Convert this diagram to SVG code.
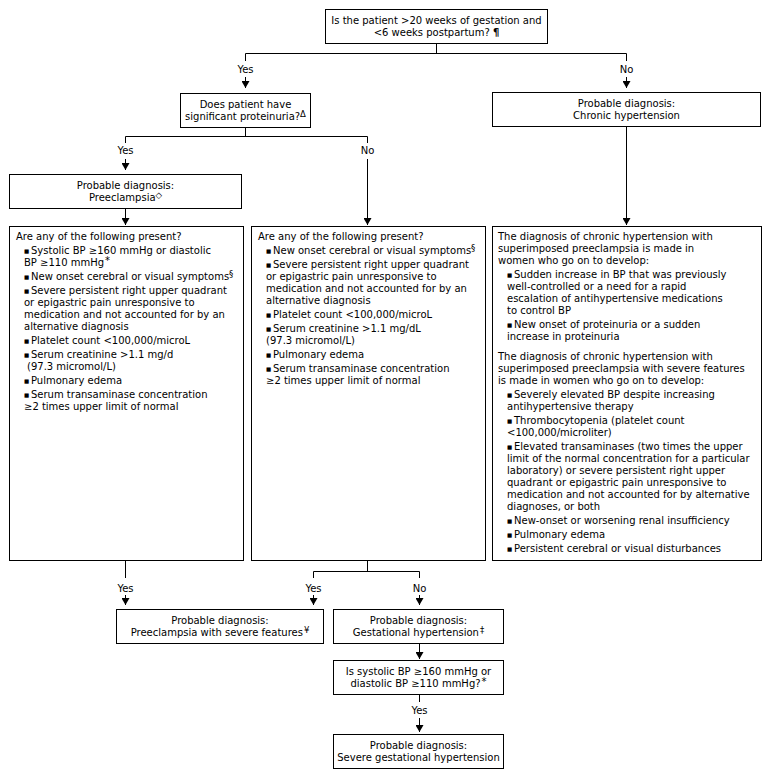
<svg xmlns="http://www.w3.org/2000/svg" width="771" height="778" viewBox="0 0 771 778">
<defs>
<marker id="ah" viewBox="0 0 7 8" refX="7" refY="4" markerWidth="7" markerHeight="8" markerUnits="userSpaceOnUse" orient="auto">
<path d="M0,0 L7,4 L0,8 z" fill="#000"/>
</marker>
<style>
text{font-family:"DejaVu Sans",Verdana,sans-serif;font-size:10px;fill:#000}
.c{text-anchor:middle}
.box{fill:#fff;stroke:#000;stroke-width:1}
.ln{fill:none;stroke:#000;stroke-width:1}
.ar{fill:none;stroke:#000;stroke-width:1;marker-end:url(#ah)}
.b{font-size:5.5px}
.sup{font-size:8.5px}
.ast{font-size:10px}
</style>
</defs>
<rect width="771" height="778" fill="#fff"/>

<g id="connectors">
<path class="ln" d="M436.5,43 V53.5 M245.5,53.5 H626.5 M245.5,53.5 V61 M626.5,53.5 V61"/>
<path class="ar" d="M245.5,77 V88"/>
<path class="ar" d="M626.5,77 V88"/>
<path class="ln" d="M245.5,127 V136.5 M125.5,136.5 H367.5 M125.5,136.5 V143 M367.5,136.5 V143"/>
<path class="ar" d="M125.5,159 V170"/>
<path class="ar" d="M367.5,159 V225"/>
<path class="ar" d="M125.5,208 V225"/>
<path class="ar" d="M626.5,126 V225"/>
<path class="ln" d="M125.5,561 V578 M367.5,561 V571.5 M313.5,571.5 H419.5 M313.5,571.5 V578 M419.5,571.5 V578"/>
<path class="ar" d="M125.5,595 V605"/>
<path class="ar" d="M313.5,595 V605"/>
<path class="ar" d="M419.5,595 V605"/>
<path class="ar" d="M419.5,643 V659"/>
<path class="ln" d="M419.5,694 V702"/>
<path class="ar" d="M419.5,718 V732"/>
<text class="c" x="245.5" y="72.5">Yes</text>
<text class="c" x="626.5" y="72.5">No</text>
<text class="c" x="125.5" y="154">Yes</text>
<text class="c" x="367.5" y="154">No</text>
<text class="c" x="125.5" y="591.5">Yes</text>
<text class="c" x="313.5" y="591.5">Yes</text>
<text class="c" x="419.5" y="591.5">No</text>
<text class="c" x="419.5" y="713.5">Yes</text>
</g>

<g id="q-gestation">
<rect class="box" x="325.5" y="9.5" width="222" height="34"/>
<text class="c" x="436.5" y="24">Is the patient &gt;20 weeks of gestation and</text>
<text class="c" x="436.5" y="36">&lt;6 weeks postpartum? <tspan font-weight="bold">¶</tspan></text>
</g>

<g id="q-proteinuria">
<rect class="box" x="180.5" y="93.5" width="130" height="34"/>
<text class="c" x="245.5" y="108">Does patient have</text>
<text class="c" x="245.5" y="120">significant proteinuria?<tspan class="sup" dy="-3">Δ</tspan></text>
</g>

<g id="dx-chronic">
<rect class="box" x="492.5" y="92.5" width="268" height="34"/>
<text class="c" x="626.5" y="107">Probable diagnosis:</text>
<text class="c" x="626.5" y="119">Chronic hypertension</text>
</g>

<g id="dx-preeclampsia">
<rect class="box" x="9.5" y="174.5" width="232" height="34"/>
<text class="c" x="125.5" y="189">Probable diagnosis:</text>
<text class="c" x="125.5" y="201">Preeclampsia<tspan class="sup" dy="-3">◇</tspan></text>
</g>

<g id="list-preeclampsia">
<rect class="box" x="9.5" y="226.5" width="234" height="334"/>
<text x="16" y="240">Are any of the following present?</text>
<text class="b" x="24" y="253">■</text><text x="31" y="254">Systolic BP ≥160 mmHg or diastolic</text>
<text x="24" y="266">BP ≥110 mmHg<tspan class="ast" dx="1" dy="-2">*</tspan></text>
<text class="b" x="24" y="279">■</text><text x="31" y="280">New onset cerebral or visual symptoms<tspan class="sup" dy="-3">§</tspan></text>
<text class="b" x="24" y="293">■</text><text x="31" y="294">Severe persistent right upper quadrant</text>
<text x="24" y="306">or epigastric pain unresponsive to</text>
<text x="24" y="318">medication and not accounted for by an</text>
<text x="24" y="330">alternative diagnosis</text>
<text class="b" x="24" y="343">■</text><text x="31" y="344">Platelet count &lt;100,000/microL</text>
<text class="b" x="24" y="357">■</text><text x="31" y="358">Serum creatinine &gt;1.1 mg/d</text>
<text x="27" y="370">(97.3 micromol/L)</text>
<text class="b" x="24" y="383">■</text><text x="31" y="384">Pulmonary edema</text>
<text class="b" x="24" y="397">■</text><text x="31" y="398">Serum transaminase concentration</text>
<text x="24" y="410">≥2 times upper limit of normal</text>
</g>

<g id="list-no-proteinuria">
<rect class="box" x="251.5" y="226.5" width="234" height="334"/>
<text x="258" y="240">Are any of the following present?</text>
<text class="b" x="266" y="253">■</text><text x="273" y="254">New onset cerebral or visual symptoms<tspan class="sup" dy="-3">§</tspan></text>
<text class="b" x="266" y="267">■</text><text x="273" y="268">Severe persistent right upper quadrant</text>
<text x="266" y="280">or epigastric pain unresponsive to</text>
<text x="266" y="292">medication and not accounted for by an</text>
<text x="266" y="304">alternative diagnosis</text>
<text class="b" x="266" y="317">■</text><text x="273" y="318">Platelet count &lt;100,000/microL</text>
<text class="b" x="266" y="331">■</text><text x="273" y="332">Serum creatinine &gt;1.1 mg/dL</text>
<text x="266" y="344">(97.3 micromol/L)</text>
<text class="b" x="266" y="357">■</text><text x="273" y="358">Pulmonary edema</text>
<text class="b" x="266" y="371">■</text><text x="273" y="372">Serum transaminase concentration</text>
<text x="266" y="384">≥2 times upper limit of normal</text>
</g>

<g id="list-chronic">
<rect class="box" x="492.5" y="226.5" width="269" height="334"/>
<text x="498" y="240">The diagnosis of chronic hypertension with</text>
<text x="498" y="252">superimposed preeclampsia is made in</text>
<text x="498" y="264">women who go on to develop:</text>
<text class="b" x="507" y="277">■</text><text x="514" y="278">Sudden increase in BP that was previously</text>
<text x="507" y="290">well-controlled or a need for a rapid</text>
<text x="507" y="302">escalation of antihypertensive medications</text>
<text x="507" y="314">to control BP</text>
<text class="b" x="507" y="327">■</text><text x="514" y="328">New onset of proteinuria or a sudden</text>
<text x="507" y="340">increase in proteinuria</text>
<text x="498" y="360">The diagnosis of chronic hypertension with</text>
<text x="498" y="372">superimposed preeclampsia with severe features</text>
<text x="498" y="384">is made in women who go on to develop:</text>
<text class="b" x="507" y="397">■</text><text x="514" y="398">Severely elevated BP despite increasing</text>
<text x="507" y="410">antihypertensive therapy</text>
<text class="b" x="507" y="423">■</text><text x="514" y="424">Thrombocytopenia (platelet count</text>
<text x="507" y="436">&lt;100,000/microliter)</text>
<text class="b" x="507" y="449">■</text><text x="514" y="450">Elevated transaminases (two times the upper</text>
<text x="507" y="462">limit of the normal concentration for a particular</text>
<text x="507" y="474">laboratory) or severe persistent right upper</text>
<text x="507" y="486">quadrant or epigastric pain unresponsive to</text>
<text x="507" y="498">medication and not accounted for by alternative</text>
<text x="507" y="510">diagnoses, or both</text>
<text class="b" x="507" y="523">■</text><text x="514" y="524">New-onset or worsening renal insufficiency</text>
<text class="b" x="507" y="537">■</text><text x="514" y="538">Pulmonary edema</text>
<text class="b" x="507" y="551">■</text><text x="514" y="552">Persistent cerebral or visual disturbances</text>
</g>

<g id="dx-severe-preeclampsia">
<rect class="box" x="116.5" y="609.5" width="207" height="34"/>
<text class="c" x="220" y="624">Probable diagnosis:</text>
<text class="c" x="220" y="636">Preeclampsia with severe features<tspan class="sup" dx="1" dy="-3">¥</tspan></text>
</g>

<g id="dx-gestational">
<rect class="box" x="333.5" y="609.5" width="170" height="34"/>
<text class="c" x="418.5" y="624">Probable diagnosis:</text>
<text class="c" x="418.5" y="636">Gestational hypertension<tspan class="sup" dx="1" dy="-3">‡</tspan></text>
</g>

<g id="q-severe-bp">
<rect class="box" x="333.5" y="660.5" width="170" height="34"/>
<text class="c" x="418.5" y="675">Is systolic BP ≥160 mmHg or</text>
<text class="c" x="418.5" y="687">diastolic BP ≥110 mmHg?<tspan class="ast" dx="1" dy="-2">*</tspan></text>
</g>

<g id="dx-severe-gestational">
<rect class="box" x="333.5" y="734.5" width="170" height="34"/>
<text class="c" x="418.5" y="749">Probable diagnosis:</text>
<text class="c" x="418.5" y="761">Severe gestational hypertension</text>
</g>
</svg>
